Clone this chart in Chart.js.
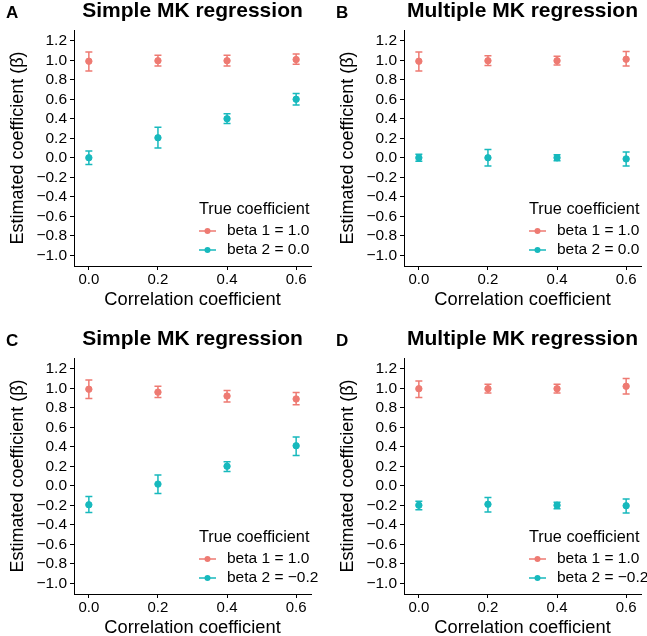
<!DOCTYPE html>
<html>
<head>
<meta charset="utf-8">
<script src="https://cdn.jsdelivr.net/npm/chart.js@4"></script>
<style>
html, body { margin: 0; padding: 0; background: #fff; overflow: hidden; width: 647px; height: 636px; }
canvas { position: absolute; }
</style>
</head>
<body>
<canvas id="pA" width="330" height="328" style="left:0;top:0"></canvas>
<canvas id="pB" width="317" height="328" style="left:330px;top:0"></canvas>
<canvas id="pC" width="330" height="328" style="left:0;top:328px"></canvas>
<canvas id="pD" width="317" height="328" style="left:330px;top:328px"></canvas>
<script>
let corr = [0.0, 0.2, 0.4, 0.6];
let xTicks = [0.0, 0.2, 0.4, 0.6];
let yTicks = [-1.0, -0.8, -0.6, -0.4, -0.2, 0.0, 0.2, 0.4, 0.6, 0.8, 1.0, 1.2];

// A: simple regression, beta 2 = 0
let simpleB1   = [0.99, 0.995, 0.995, 1.007];
let simpleB1Lo = [0.89, 0.94, 0.94, 0.96];
let simpleB1Hi = [1.085, 1.05, 1.05, 1.065];
let simpleB2   = [0.0, 0.205, 0.40, 0.60];
let simpleB2Lo = [-0.068, 0.10, 0.35, 0.54];
let simpleB2Hi = [0.07, 0.313, 0.45, 0.66];

// B: multiple regression, beta 2 = 0
let multB1   = [0.99, 0.995, 0.995, 1.01];
let multB1Lo = [0.89, 0.945, 0.95, 0.94];
let multB1Hi = [1.085, 1.045, 1.04, 1.09];
let multB2   = [0.0, 0.0, 0.0, -0.012];
let multB2Lo = [-0.035, -0.085, -0.03, -0.085];
let multB2Hi = [0.035, 0.085, 0.03, 0.06];

// C: simple regression, beta 2 = -0.2
let simpleNegB1   = [0.99, 0.96, 0.92, 0.89];
let simpleNegB1Lo = [0.895, 0.905, 0.86, 0.83];
let simpleNegB1Hi = [1.085, 1.02, 0.977, 0.955];
let simpleNegB2   = [-0.195, 0.017, 0.20, 0.41];
let simpleNegB2Lo = [-0.275, -0.08, 0.145, 0.31];
let simpleNegB2Hi = [-0.11, 0.11, 0.245, 0.50];

// D: multiple regression, beta 2 = -0.2
let multNegB1   = [0.995, 0.995, 0.995, 1.02];
let multNegB1Lo = [0.905, 0.95, 0.95, 0.94];
let multNegB1Hi = [1.075, 1.04, 1.04, 1.10];
let multNegB2   = [-0.2, -0.19, -0.2, -0.205];
let multNegB2Lo = [-0.245, -0.27, -0.235, -0.28];
let multNegB2Hi = [-0.16, -0.12, -0.17, -0.136];

const RED = '#EE7A72';
const TEAL = '#17B9BD';
const FONT = '"Liberation Sans", Arial, Helvetica, sans-serif';

Chart.defaults.font.family = FONT;
Chart.defaults.color = '#000';

const fmt = v => (v < 0 ? '\u2212' : '') + Math.abs(v).toFixed(1);

// error bars from lo/hi arrays, drawn under the points
const errorBars = {
  id: 'errorBars',
  beforeDatasetsDraw(chart) {
    const ctx = chart.ctx;
    const y = chart.scales.y;
    chart.data.datasets.forEach((ds, i) => {
      const meta = chart.getDatasetMeta(i);
      ctx.save();
      ctx.strokeStyle = ds.borderColor;
      ctx.lineWidth = 1.5;
      meta.data.forEach((pt, j) => {
        const top = y.getPixelForValue(ds.hi[j]);
        const bot = y.getPixelForValue(ds.lo[j]);
        ctx.beginPath();
        ctx.moveTo(pt.x, top); ctx.lineTo(pt.x, bot);
        ctx.moveTo(pt.x - 3.5, top); ctx.lineTo(pt.x + 3.5, top);
        ctx.moveTo(pt.x - 3.5, bot); ctx.lineTo(pt.x + 3.5, bot);
        ctx.stroke();
      });
      ctx.restore();
    });
  }
};

// panel letter, title and the ggplot-like legend inside the plot
const panelDeco = {
  id: 'panelDeco',
  afterDraw(chart, args, opts) {
    const ctx = chart.ctx;
    const area = chart.chartArea;
    ctx.save();
    ctx.fillStyle = '#000';
    ctx.textBaseline = 'middle';
    ctx.font = 'bold 17px ' + FONT;
    ctx.textAlign = 'left';
    ctx.fillText(opts.letter, 6, 13);
    ctx.font = 'bold 21px ' + FONT;
    ctx.textAlign = 'center';
    ctx.fillText(opts.title, (area.left + area.right) / 2, 11);

    const lx = area.right - 112;
    ctx.textAlign = 'left';
    ctx.font = '16.3px ' + FONT;
    ctx.fillText('True coefficient', lx, area.bottom - 56);
    ctx.font = '15.5px ' + FONT;
    chart.data.datasets.forEach((ds, i) => {
      const yy = area.bottom - 35 + i * 19;
      ctx.strokeStyle = ds.borderColor;
      ctx.lineWidth = 1.5;
      ctx.beginPath();
      ctx.moveTo(lx, yy); ctx.lineTo(lx + 17, yy);
      ctx.stroke();
      ctx.fillStyle = ds.backgroundColor;
      ctx.beginPath();
      ctx.arc(lx + 8.5, yy, 3, 0, Math.PI * 2);
      ctx.fill();
      ctx.fillStyle = '#000';
      ctx.fillText(ds.label, lx + 28, yy);
    });
    ctx.restore();
  }
};

function pts(vals) {
  return corr.map((c, i) => ({ x: c, y: vals[i] }));
}

function makePanel(id, letter, title, b1, b1lo, b1hi, b2label, b2, b2lo, b2hi, padRight) {
  const ctx = document.getElementById(id).getContext('2d');
  return new Chart(ctx, {
    type: 'scatter',
    data: {
      datasets: [
        { label: 'beta 1 = 1.0', data: pts(b1), lo: b1lo, hi: b1hi,
          backgroundColor: RED, borderColor: RED, pointRadius: 3.2, pointHoverRadius: 3.2 },
        { label: b2label, data: pts(b2), lo: b2lo, hi: b2hi,
          backgroundColor: TEAL, borderColor: TEAL, pointRadius: 3.2, pointHoverRadius: 3.2 }
      ]
    },
    options: {
      responsive: false,
      animation: false,
      layout: { padding: { top: 30, right: padRight, left: 0, bottom: 0 } },
      plugins: {
        legend: { display: false },
        tooltip: { enabled: false },
        panelDeco: { letter: letter, title: title }
      },
      scales: {
        x: {
          type: 'linear',
          min: -0.043, max: 0.643,
          afterBuildTicks: s => { s.ticks = xTicks.map(v => ({ value: v })); },
          afterFit: s => { s.height = 62; },
          ticks: { font: { size: 15 }, color: '#000', padding: 1, autoSkip: false, maxRotation: 0,
                   callback: v => fmt(v) },
          grid: { drawOnChartArea: false, drawTicks: true, tickLength: 4, color: '#000' },
          border: { display: true, color: '#000', width: 1 },
          title: { display: true, text: 'Correlation coefficient', font: { size: 18.3 }, color: '#000',
                   padding: { top: 0, bottom: 17 } }
        },
        y: {
          type: 'linear',
          min: -1.11, max: 1.31,
          afterBuildTicks: s => { s.ticks = yTicks.map(v => ({ value: v })); },
          afterFit: s => { s.width = 74; },
          ticks: { font: { size: 15.5, lineHeight: 1 }, color: '#000', padding: 3, autoSkip: false,
                   callback: v => fmt(v) },
          grid: { drawOnChartArea: false, drawTicks: true, tickLength: 4, color: '#000' },
          border: { display: true, color: '#000', width: 1 },
          title: { display: true, text: 'Estimated coefficient (\u03B2\u0302)', font: { size: 18 }, color: '#000',
                   padding: { top: 7, bottom: 0 } }
        }
      }
    },
    plugins: [errorBars, panelDeco]
  });
}

makePanel('pA', 'A', 'Simple MK regression', simpleB1, simpleB1Lo, simpleB1Hi,
  'beta 2 = 0.0', simpleB2, simpleB2Lo, simpleB2Hi, 19);
makePanel('pB', 'B', 'Multiple MK regression', multB1, multB1Lo, multB1Hi,
  'beta 2 = 0.0', multB2, multB2Lo, multB2Hi, 6);
makePanel('pC', 'C', 'Simple MK regression', simpleNegB1, simpleNegB1Lo, simpleNegB1Hi,
  'beta 2 = \u22120.2', simpleNegB2, simpleNegB2Lo, simpleNegB2Hi, 19);
makePanel('pD', 'D', 'Multiple MK regression', multNegB1, multNegB1Lo, multNegB1Hi,
  'beta 2 = \u22120.2', multNegB2, multNegB2Lo, multNegB2Hi, 6);
</script>
</body>
</html>
